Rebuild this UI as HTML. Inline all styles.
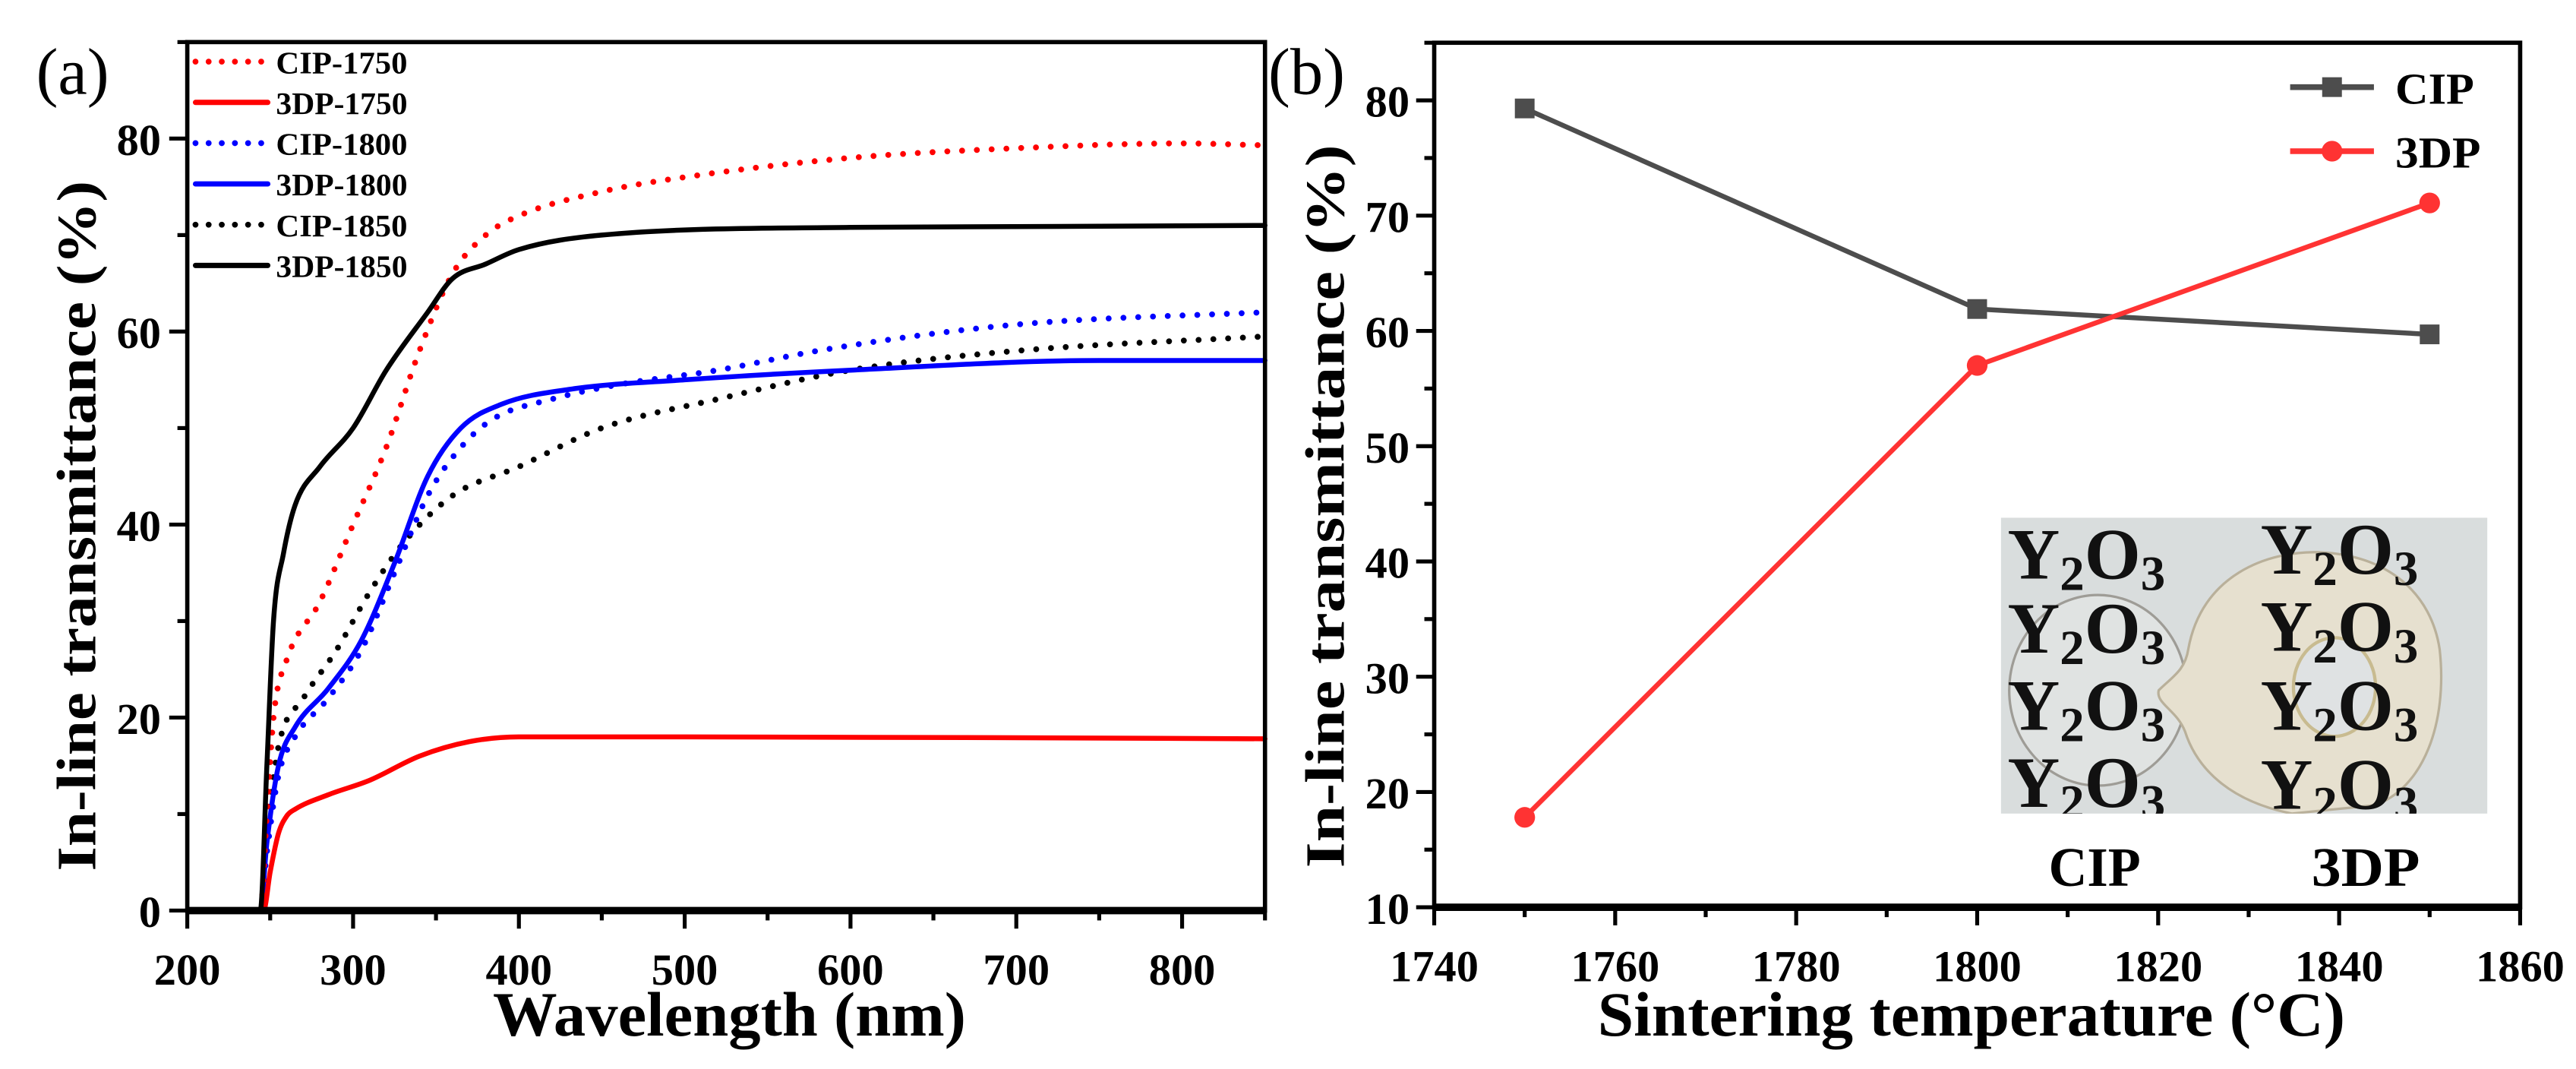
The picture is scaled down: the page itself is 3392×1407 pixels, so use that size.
<!DOCTYPE html>
<html><head><meta charset="utf-8"><style>
html,body{margin:0;padding:0;background:#fff;}
svg{display:block;}
text{font-family:"Liberation Serif",serif;}
</style></head><body>
<svg id="fig" xmlns="http://www.w3.org/2000/svg" width="3392" height="1407" viewBox="0 0 1568 650.4" preserveAspectRatio="none">
<rect width="1568" height="650.4" fill="#fff"/>
<g id="pa"></g>
<g id="pb"></g>
</svg>
<script>
// ---------- Panel (a) data ----------
const aWl_3DP1850 = [200,244,248,252,258,265,280,300,320,345,360,380,400,450,600,850];
const aT_3DP1850  = [0,0,15,30,37,42,46,50,56,62,65.5,67,68.5,70,70.8,71];
const aWl_CIP1750 = [200,244,248,252,260,280,300,320,340,360,380,400,450,500,600,700,800,850];
const aT_CIP1750  = [0,0,10,20,26,32,40,48,58,66,70,72,74.5,76,78,79,79.5,79.3];
const aWl_3DP1750 = [200,246,250,255,260,265,285,310,340,370,400,500,850];
const aT_3DP1750  = [0,0,4,8,9.8,10.5,12,13.5,16,17.5,18,18,17.8];
const aWl_CIP1800 = [200,244,248,255,265,285,305,325,345,365,385,420,460,520,580,660,720,850];
const aT_CIP1800  = [0,0,6,14,18,22,27,35,43,48,51,53,54.5,56,58,60,61,62];
const aWl_3DP1800 = [200,244,248,255,265,285,305,325,345,365,390,430,500,600,750,850];
const aT_3DP1800  = [0,0,7,15,19,23,28,36,45,50,52.5,54,55,56,57,57];
const aWl_CIP1850 = [200,244,248,255,270,290,310,330,360,400,450,520,600,700,850];
const aT_CIP1850  = [0,0,8,17,22,27,33,38,43,46,50,53,56,58,59.5];
const aXTicks = [200,300,400,500,600,700,800];
const aYTicks = [0,20,40,60,80];
const aLegend = ["CIP-1750","3DP-1750","CIP-1800","3DP-1800","CIP-1850","3DP-1850"];

// ---------- Panel (b) data ----------
const bTemps = [1750,1800,1850];
const bCIP = [79.3,61.9,59.7];
const b3DP = [17.8,57.0,71.1];
const bXTicks = [1740,1760,1780,1800,1820,1840,1860];
const bYTicks = [10,20,30,40,50,60,70,80];

const NS="http://www.w3.org/2000/svg";
function mk(parent,tag,attrs,txt){const e=document.createElementNS(NS,tag);for(const k in attrs)e.setAttribute(k,attrs[k]);if(txt!==undefined)e.textContent=txt;parent.appendChild(e);return e;}

// ===== Panel a =====
const pa=document.getElementById('pa');
const aL=114,aR=770,aT=25.6,aB=554,aXmin=200,aXmax=850,aYmin=0,aYmax=90;
const ax=v=>aL+(v-aXmin)/(aXmax-aXmin)*(aR-aL);
const ay=v=>aB-(v-aYmin)/(aYmax-aYmin)*(aB-aT);
// monotone cubic (Fritsch-Carlson) in pixel space
function monoPath(pts){
  const n=pts.length;const dx=[],m=[],t=new Array(n);
  for(let i=0;i<n-1;i++){dx[i]=pts[i+1][0]-pts[i][0];m[i]=(pts[i+1][1]-pts[i][1])/dx[i];}
  t[0]=m[0];t[n-1]=m[n-2];
  for(let i=1;i<n-1;i++){t[i]=(m[i-1]*m[i]<=0)?0:(m[i-1]+m[i])/2;}
  for(let i=0;i<n-1;i++){
    if(m[i]===0){t[i]=0;t[i+1]=0;continue;}
    const a=t[i]/m[i],b=t[i+1]/m[i],s=a*a+b*b;
    if(s>9){const k=3/Math.sqrt(s);t[i]=k*a*m[i];t[i+1]=k*b*m[i];}
  }
  let d='M'+pts[0][0].toFixed(2)+','+pts[0][1].toFixed(2);
  for(let i=0;i<n-1;i++){
    const h=dx[i]/3;
    d+='C'+(pts[i][0]+h).toFixed(2)+','+(pts[i][1]+t[i]*h).toFixed(2)+' '+(pts[i+1][0]-h).toFixed(2)+','+(pts[i+1][1]-t[i+1]*h).toFixed(2)+' '+pts[i+1][0].toFixed(2)+','+pts[i+1][1].toFixed(2);
  }
  return d;
}
function series(g,xs,ys,color,dotted,name){
  const pts=xs.map((x,i)=>[ax(x),ay(ys[i])]);
  const p=mk(g,'path',{d:monoPath(pts),fill:'none',stroke:color,'stroke-width':dotted?3.6:3,'stroke-linejoin':'round','stroke-linecap':'round'});
  if(dotted)p.setAttribute('stroke-dasharray','0 9');
  
  
}
const sa=mk(pa,'g',{});
series(sa,aWl_CIP1850,aT_CIP1850,'#000',true,'series-cip-1850');
series(sa,aWl_CIP1800,aT_CIP1800,'#0000ff',true,'series-cip-1800');
series(sa,aWl_3DP1800,aT_3DP1800,'#0000ff',false,'series-3dp-1800');
series(sa,aWl_3DP1750,aT_3DP1750,'#ff0000',false,'series-3dp-1750');
series(sa,aWl_CIP1750,aT_CIP1750,'#ff0000',true,'series-cip-1750');
series(sa,aWl_3DP1850,aT_3DP1850,'#000',false,'series-3dp-1850');
const fa=mk(pa,'rect',{x:aL,y:aT,width:aR-aL,height:aB-aT,fill:'none',stroke:'#000','stroke-width':2.6});


mk(pa,'line',{x1:aL-1,x2:aR+1,y1:aB,y2:aB,stroke:'#000','stroke-width':4.5});
for(let v=200;v<=850;v+=50){const maj=v%100===0;mk(pa,'line',{x1:ax(v),x2:ax(v),y1:aB,y2:aB+(maj?11:6),stroke:'#000','stroke-width':2.4});}
aXTicks.forEach(v=>{const t=mk(pa,'text',{x:ax(v),y:599,'font-size':27,'font-weight':'bold','text-anchor':'middle'},String(v));
  
  });
for(let v=0;v<=90;v+=10){const maj=v%20===0;mk(pa,'line',{x1:aL,x2:aL-(maj?11:6),y1:ay(v),y2:ay(v),stroke:'#000','stroke-width':2.4});}
aYTicks.forEach(v=>{const t=mk(pa,'text',{x:aL-16,y:ay(v)+10,'font-size':27,'font-weight':'bold','text-anchor':'end'},String(v));
  
  });
const lgA=mk(pa,'g',{});


const lgColors=['#ff0000','#ff0000','#0000ff','#0000ff','#000','#000'];
aLegend.forEach((lab,i)=>{const y=42.5+i*24.8;const dotted=i%2===0;
  const l=mk(lgA,'line',{x1:119,x2:163,y1:y-5,y2:y-5,stroke:lgColors[i],'stroke-width':dotted?3.6:3.2,'stroke-linecap':'round'});
  if(dotted)l.setAttribute('stroke-dasharray','0 8');
  const t=mk(lgA,'text',{x:168,y:y+2,'font-size':19,'font-weight':'bold',textLength:80,lengthAdjust:'spacingAndGlyphs'},lab);
  
  });
let t;
t=mk(pa,'text',{x:22,y:57,'font-size':40},'(a)');
t=mk(pa,'text',{x:444,y:630,'font-size':38,'font-weight':'bold','text-anchor':'middle',textLength:288,lengthAdjust:'spacingAndGlyphs'},'Wavelength (nm)');
t=mk(pa,'text',{x:0,y:0,'font-size':34,'font-weight':'bold','text-anchor':'middle',textLength:420,lengthAdjust:'spacingAndGlyphs',transform:'translate(58,320) rotate(-90)'},'In-line transmittance (%)');

// ===== Panel b =====
const pb=document.getElementById('pb');
const bL=873,bR=1534,bT=26,bB=552,bXmin=1740,bXmax=1860,bYmin=10,bYmax=85;
const bx=v=>bL+(v-bXmin)/(bXmax-bXmin)*(bR-bL);
const by=v=>bB-(v-bYmin)/(bYmax-bYmin)*(bB-bT);
const ins=mk(pb,'g',{});


mk(ins,'rect',{x:1218,y:315,width:296,height:180,fill:'#d9dddd'});
const clip=mk(ins,'clipPath',{id:'insclip'});mk(clip,'rect',{x:1218,y:315,width:296,height:180});
const ig=mk(ins,'g',{'clip-path':'url(#insclip)'});
mk(ig,'ellipse',{cx:1277,cy:420,rx:54,ry:58,fill:'#e0e3e2',stroke:'#9e9c96','stroke-width':1.5});
mk(ig,'path',{d:'M1314,420 C1322,412 1330,408 1332,395 C1340,350 1380,335 1412,336 C1455,338 1480,362 1485,395 C1490,440 1475,480 1445,490 L1395,495 C1360,488 1338,470 1330,445 C1325,432 1312,428 1314,420Z',fill:'#e6e0cf',stroke:'#b9b09a','stroke-width':1.5});
mk(ig,'ellipse',{cx:1421,cy:418,rx:25,ry:30,fill:'#dfe2e3',stroke:'#c8bb90','stroke-width':2});
const yLab=[[1222,348],[1222,393],[1222,440],[1222,487],[1376,345],[1376,392],[1376,440],[1376,488]];
yLab.forEach(p=>{const g=mk(ig,'text',{x:p[0],y:p[1]+4,'font-size':44,'font-weight':'bold',fill:'#111',textLength:96,lengthAdjust:'spacingAndGlyphs'},'');
  mk(g,'tspan',{},'Y');mk(g,'tspan',{'font-size':30,dy:7},'2');mk(g,'tspan',{'font-size':44,dy:-7},'O');mk(g,'tspan',{'font-size':30,dy:7},'3');});
t=mk(pb,'text',{x:1275,y:539,'font-size':34,'font-weight':'bold','text-anchor':'middle',textLength:56,lengthAdjust:'spacingAndGlyphs'},'CIP');
t=mk(pb,'text',{x:1440,y:539,'font-size':34,'font-weight':'bold','text-anchor':'middle',textLength:66,lengthAdjust:'spacingAndGlyphs'},'3DP');
function lineB(vals,color,name){const d=bTemps.map((x,i)=>(i?'L':'M')+bx(x)+','+by(vals[i])).join('');
  const p=mk(pb,'path',{d:d,fill:'none',stroke:color,'stroke-width':3});
  
  }
lineB(bCIP,'#4d4d4d','series-cip');
lineB(b3DP,'#ff3333','series-3dp');
bTemps.forEach((x,i)=>{const r=mk(pb,'rect',{x:bx(x)-6,y:by(bCIP[i])-6,width:12,height:12,fill:'#4d4d4d'});
  
  
  const c=mk(pb,'circle',{cx:bx(x),cy:by(b3DP[i]),r:6.3,fill:'#ff3333'});
  
  });
const fb=mk(pb,'rect',{x:bL,y:bT,width:bR-bL,height:bB-bT,fill:'none',stroke:'#000','stroke-width':2.6});


mk(pb,'line',{x1:bL-1,x2:bR+1,y1:bB,y2:bB,stroke:'#000','stroke-width':4.5});
for(let v=1740;v<=1860;v+=10){const maj=v%20===0;mk(pb,'line',{x1:bx(v),x2:bx(v),y1:bB,y2:bB+(maj?11:6),stroke:'#000','stroke-width':2.4});}
bXTicks.forEach(v=>{const t=mk(pb,'text',{x:bx(v),y:597,'font-size':27,'font-weight':'bold','text-anchor':'middle'},String(v));
  
  });
for(let v=10;v<=85;v+=5){const maj=v%10===0;mk(pb,'line',{x1:bL,x2:bL-(maj?11:6),y1:by(v),y2:by(v),stroke:'#000','stroke-width':2.4});}
bYTicks.forEach(v=>{const t=mk(pb,'text',{x:bL-15,y:by(v)+10,'font-size':27,'font-weight':'bold','text-anchor':'end'},String(v));
  
  });
const lgB=mk(pb,'g',{});


mk(lgB,'line',{x1:1394,x2:1445,y1:53,y2:53,stroke:'#4d4d4d','stroke-width':3.5});
mk(lgB,'rect',{x:1413.5,y:47,width:12,height:12,fill:'#4d4d4d'});
t=mk(lgB,'text',{x:1458,y:63,'font-size':27,'font-weight':'bold',textLength:48,lengthAdjust:'spacingAndGlyphs'},'CIP');
mk(lgB,'line',{x1:1394,x2:1445,y1:92,y2:92,stroke:'#ff3333','stroke-width':3.5});
mk(lgB,'circle',{cx:1419.5,cy:92,r:6.3,fill:'#ff3333'});
t=mk(lgB,'text',{x:1458,y:102,'font-size':27,'font-weight':'bold',textLength:52,lengthAdjust:'spacingAndGlyphs'},'3DP');
t=mk(pb,'text',{x:772,y:57,'font-size':40},'(b)');
t=mk(pb,'text',{x:1200,y:630,'font-size':38,'font-weight':'bold','text-anchor':'middle',textLength:455,lengthAdjust:'spacingAndGlyphs'},'Sintering temperature (°C)');
t=mk(pb,'text',{x:0,y:0,'font-size':34,'font-weight':'bold','text-anchor':'middle',textLength:440,lengthAdjust:'spacingAndGlyphs',transform:'translate(818,308) rotate(-90)'},'In-line transmittance (%)');
</script>
</body></html>
